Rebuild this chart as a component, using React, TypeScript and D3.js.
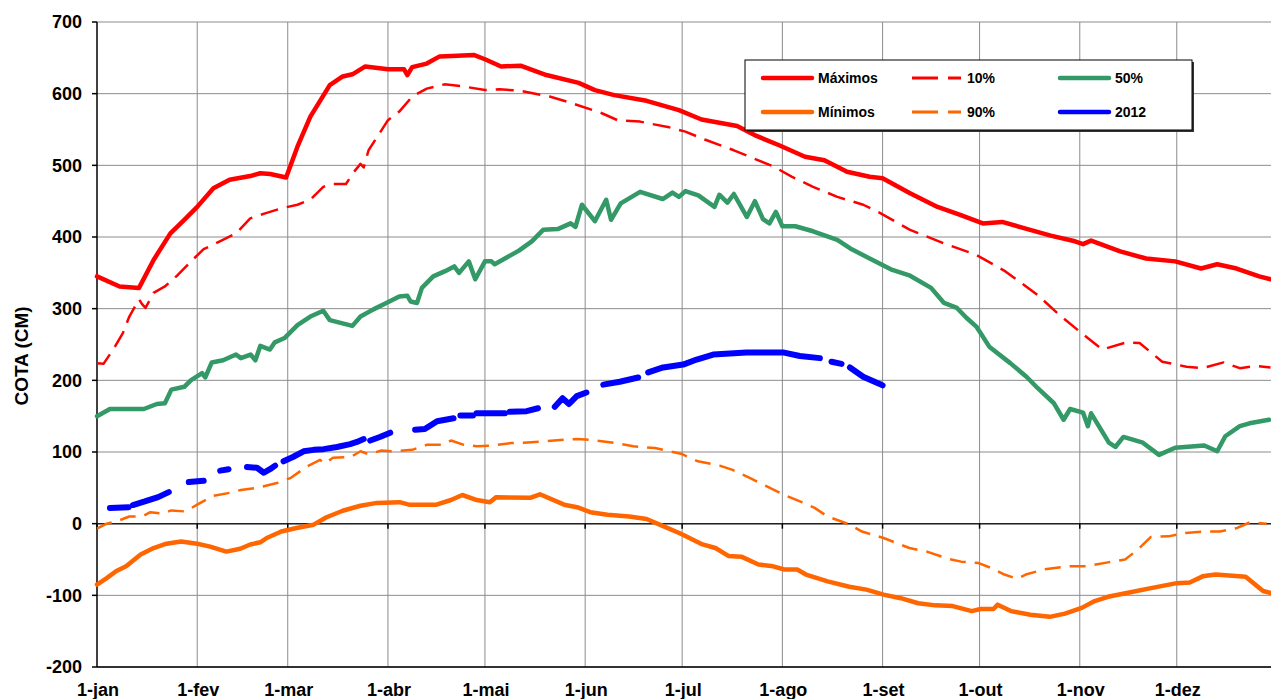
import * as React from 'react';
import { useEffect, useRef } from 'react';
import * as d3 from 'd3';

type Pt = [number, number | null];

const monthDays = [0, 31, 59, 90, 120, 151, 181, 212, 243, 273, 304, 334];
const monthLabels = ['1-jan', '1-fev', '1-mar', '1-abr', '1-mai', '1-jun', '1-jul', '1-ago', '1-set', '1-out', '1-nov', '1-dez'];
const yTicks = [-200, -100, 0, 100, 200, 300, 400, 500, 600, 700];

// day of year, level (cm)
const maxima: Pt[] = [
    [0, 345], [7, 331], [13, 329], [17.5, 368], [22.7, 405], [27, 424], [31, 442], [36, 468], [41, 480],
    [47.4, 485], [50.5, 489], [53.6, 488], [58.5, 483], [62, 526], [66, 568], [72, 612], [76, 624], [79, 627],
    [83, 638], [90, 634], [95, 634], [96, 626], [97.5, 637], [102, 642], [106, 652], [111.5, 653], [116.5, 654],
    [120, 648], [125, 638], [131, 639], [139, 626], [149, 615], [154, 605], [160, 598], [170, 590], [180, 577],
    [187, 564], [198, 555], [204, 541], [211, 528], [219, 512], [225, 507], [232, 491], [239, 484], [243, 482],
    [251.5, 461], [260, 442], [267, 431], [274, 419], [280, 421], [287, 412], [295, 402], [302.5, 394], [305, 390],
    [307.5, 395], [316.5, 380], [324.5, 370], [333.5, 366], [341.5, 356], [346.5, 362], [352.5, 356], [359.5, 345],
    [363, 341],
];

const p10: Pt[] = [
    [0, 224], [2, 223], [5, 243], [8, 266], [10, 289], [13, 313], [14, 306], [15, 301], [17.5, 322], [21, 331],
    [25, 347], [30, 370], [33, 383], [38, 394], [43, 405], [47.4, 426], [52, 433], [57, 440], [62, 445], [66, 452],
    [70, 470], [73, 474], [77, 474], [79.5, 491], [81.5, 502], [82.5, 497], [84, 521], [87, 542], [90, 563],
    [93.5, 575], [97.5, 596], [102, 607], [107.5, 613], [113.5, 610], [120, 605], [124.5, 606], [131, 604],
    [140, 596], [146, 588], [156, 573], [161, 563], [168, 561], [177, 553], [182, 547], [188, 536], [197, 521],
    [204, 508], [209, 499], [215, 484], [221.5, 470], [229, 456], [237, 445], [242, 434], [251.5, 410], [262, 391],
    [272, 375], [281, 352], [291, 319], [297, 294], [304.5, 266], [311, 243], [318.5, 253], [322.5, 252],
    [329.5, 226], [337, 219], [342, 217], [348.5, 225], [353.5, 217], [358.5, 220], [363, 218],
];

const p50: Pt[] = [
    [0, 150], [4, 160], [14.5, 160], [18.5, 167], [21, 168], [23, 187], [27, 191], [29, 200], [32.5, 210],
    [33.5, 204], [35.5, 225], [39, 228], [43, 236], [44.5, 231], [47.5, 236], [49, 228], [50.5, 248], [53.5, 243],
    [55, 253], [58, 259], [62, 277], [66, 289], [70, 297], [72, 284], [79, 276], [81.5, 289], [85.5, 299],
    [89.5, 308], [93.5, 317], [96, 318], [97, 310], [99, 308], [100.5, 329], [104, 345], [107.5, 352], [110.5, 359],
    [112, 350], [115, 366], [117, 341], [120, 366], [122, 366], [123, 362], [130.5, 381], [134.5, 394], [138, 410],
    [142.5, 411], [146.5, 419], [148, 414], [150, 445], [154, 422], [157.5, 452], [159, 424], [162, 447], [168, 463],
    [175, 453], [178, 462], [180, 456], [182, 464], [186, 458], [191, 442], [192.5, 459], [195, 448], [197, 460],
    [201, 428], [203.5, 450], [206, 425], [208, 419], [210, 435], [212, 415], [216, 415], [221.5, 408], [229, 396],
    [233, 384], [239, 370], [246, 354], [251.5, 346], [258, 329], [262, 308], [266, 301], [269, 287], [272, 275],
    [276, 247], [282.5, 224], [287.5, 205], [291, 189], [296, 168], [299, 145], [301, 160], [305, 155],
    [306.5, 136], [307.5, 154], [313, 113], [315, 107], [317.5, 121], [323.5, 113], [328.5, 96], [333.5, 106],
    [342.5, 109], [346.5, 101], [349, 122], [353.5, 136], [356.5, 140], [362.5, 145],
];

const p90: Pt[] = [
    [0, -7], [3, 0], [6, 3], [10, 10], [14, 10], [16.5, 16], [20, 14], [23, 18.5], [27.3, 17], [31, 26.5],
    [36, 39], [41, 43], [44.5, 47], [49.5, 50], [56, 57], [60, 64], [65, 80], [69, 89], [70.5, 84], [73, 92],
    [78.5, 93], [81.5, 101], [84, 97], [88, 102], [91, 101], [97.5, 103], [102, 110], [107, 110], [109.5, 116],
    [113.5, 110], [117.5, 108], [122, 109], [128, 112.5], [132, 113], [138.5, 115], [144.5, 117], [148.5, 118],
    [152.6, 117], [160.6, 112.5], [165.9, 108], [172.6, 105.5], [180.6, 97.6], [185.9, 87], [192.6, 81],
    [196.6, 75], [201.9, 64], [207.2, 52], [212.6, 40], [218, 30], [222, 22], [226, 10], [232.7, -1],
    [236.6, -11], [243.3, -20], [251.3, -34], [256.7, -39], [263.3, -49], [267.3, -53], [272.7, -55],
    [276.7, -62], [280.7, -71], [284.7, -77], [287.3, -71], [292.7, -64], [300.7, -59.5], [306, -59.5],
    [312.7, -54], [318, -50], [322, -36], [326, -18.5], [331.4, -17.7], [336.7, -13], [342, -11], [347.4, -11],
    [352.7, -6], [356.7, 2], [361.8, 0],
];

const minima: Pt[] = [
    [0, -85], [3, -76], [6, -66], [9, -59.5], [13.5, -43], [17.5, -34], [21.5, -28], [26, -25], [31, -28],
    [35, -32], [40, -39], [44.3, -35], [47.4, -29], [50.5, -26], [52.5, -20], [57, -11], [61.7, -6], [67, -1.4],
    [71, 9], [76, 18], [81.5, 25], [86.6, 29], [93.6, 30], [96.5, 26.5], [105, 26.5], [109.5, 33], [113, 40],
    [117.5, 33], [121.5, 30], [123.5, 37], [134, 36], [137, 41], [144.5, 26.5], [148.5, 23], [152.6, 16],
    [157.9, 12.5], [164.6, 10], [170, 6.5], [175.3, -3.7], [180.6, -14], [187.3, -29], [191.3, -34],
    [195.3, -45], [199.3, -46], [204.6, -57], [208.6, -59], [212.6, -64], [216.6, -64], [219.3, -71],
    [226, -80.5], [232.7, -88], [238, -92], [243.3, -99], [248.6, -104], [254, -111], [259.3, -114],
    [264.7, -115], [270.6, -122], [273.3, -119], [277.3, -119], [278.6, -113], [282.7, -122], [288.7, -127],
    [294.7, -130], [299.4, -125.5], [304.6, -117.5], [308.6, -108], [312.7, -102], [319.3, -96], [326, -90],
    [334, -83], [338, -82], [342, -73.5], [346, -71], [355.3, -74], [360.7, -94], [363.2, -97],
];

// null = missing days (gaps in the record)
const y2012: Pt[] = [
    [4, 22], [9.8, 23], [10.5, null],
    [11.1, 26], [14.8, 31], [18.9, 37], [22.2, 44], [25, null],
    [28.4, 58], [33, 60], [35, null],
    [38.1, 74], [40.7, 76], [43, null],
    [46.4, 79], [49.5, 78], [51.6, 71], [53.5, 76], [55.1, 81], [56.5, null],
    [57.7, 87], [60.6, 93], [63.9, 101], [67, 103], [70.1, 104], [74.2, 107], [78.3, 111], [80.4, 114], [82.5, 118], [83.5, null],
    [84.5, 116], [87.5, 121], [90.7, 127], [94, null],
    [98.4, 131], [101.4, 132], [105.2, 143], [110.3, 147], [111.5, null],
    [112.4, 151], [116.3, 151], [117, null],
    [117.4, 154], [126.2, 154], [127, null],
    [127.7, 156], [132.9, 157], [136.4, 161], [139, null],
    [141.6, 163], [144, 175], [146, 167], [148.4, 178], [151.4, 183], [154, null],
    [156.6, 194], [161.7, 198], [167.4, 204], [169, null],
    [170.5, 211], [175.1, 218], [181.3, 222], [185.5, 229], [190.6, 236], [200.9, 239], [212.2, 239],
    [217.4, 234], [223.6, 231], [225.5, null],
    [227.2, 226], [230.3, 223], [231.5, null],
    [232.9, 218], [237, 205], [242.1, 195], [243, 193],
];

interface Series {
    name: string;
    data: Pt[];
    color: string;
    width: number;
    dash: string | null;
}

const series: Series[] = [
    { name: 'Máximos', data: maxima, color: '#FF0000', width: 4.5, dash: null },
    { name: '10%', data: p10, color: '#FF0000', width: 2.5, dash: '18,9' },
    { name: '50%', data: p50, color: '#339966', width: 4.5, dash: null },
    { name: 'Mínimos', data: minima, color: '#FF6600', width: 4.5, dash: null },
    { name: '90%', data: p90, color: '#FF6600', width: 2.5, dash: '16,9' },
    { name: '2012', data: y2012, color: '#0000FF', width: 6, dash: null },
];

const W = 1271;
const H = 699;
const FONT = '"Liberation Sans", Arial, sans-serif';

export default function App() {
    const ref = useRef<SVGSVGElement>(null);

    useEffect(() => {
        const svg = d3.select(ref.current);
        svg.selectAll('*').remove();

        const x = d3.scaleLinear().domain([0, 365]).range([97, 1277]);
        const y = d3.scaleLinear().domain([-200, 700]).range([667, 22]);

        // grid
        const grid = svg.append('g');
        grid.selectAll('line.h')
            .data(yTicks)
            .enter().append('line')
            .attr('x1', x(0)).attr('x2', W)
            .attr('y1', d => y(d)).attr('y2', d => y(d))
            .attr('stroke', '#8c8c8c').attr('stroke-width', 1);
        grid.selectAll('line.v')
            .data(monthDays.slice(1))
            .enter().append('line')
            .attr('x1', d => x(d)).attr('x2', d => x(d))
            .attr('y1', y(700)).attr('y2', y(-200))
            .attr('stroke', '#8c8c8c').attr('stroke-width', 1);

        // axes
        svg.append('line')
            .attr('x1', x(0)).attr('x2', x(0)).attr('y1', y(700)).attr('y2', y(-200))
            .attr('stroke', '#000').attr('stroke-width', 1.5);
        svg.append('line')
            .attr('x1', x(0)).attr('x2', W).attr('y1', y(-200)).attr('y2', y(-200))
            .attr('stroke', '#000').attr('stroke-width', 1.5);
        svg.append('line')
            .attr('x1', x(0)).attr('x2', W).attr('y1', y(0)).attr('y2', y(0))
            .attr('stroke', '#222').attr('stroke-width', 1.5);
        svg.selectAll('line.xt')
            .data(monthDays)
            .enter().append('line')
            .attr('x1', d => x(d)).attr('x2', d => x(d))
            .attr('y1', y(0)).attr('y2', y(0) + 5)
            .attr('stroke', '#000').attr('stroke-width', 1.5);
        svg.selectAll('line.yt')
            .data(yTicks)
            .enter().append('line')
            .attr('x1', x(0) - 5).attr('x2', x(0))
            .attr('y1', d => y(d)).attr('y2', d => y(d))
            .attr('stroke', '#000').attr('stroke-width', 1.5);

        // tick labels
        svg.selectAll('text.yl')
            .data(yTicks)
            .enter().append('text')
            .attr('x', 82).attr('y', d => y(d))
            .attr('dy', '0.36em')
            .attr('text-anchor', 'end')
            .style('font', `bold 18px ${FONT}`)
            .text(d => String(d));
        svg.selectAll('text.xl')
            .data(monthDays)
            .enter().append('text')
            .attr('x', d => x(d) + 1).attr('y', 696)
            .attr('text-anchor', 'middle')
            .style('font', `bold 18px ${FONT}`)
            .text((d, i) => monthLabels[i]);

        svg.append('text')
            .attr('transform', 'translate(28,356) rotate(-90)')
            .attr('text-anchor', 'middle')
            .style('font', `bold 19px ${FONT}`)
            .text('COTA (CM)');

        // series
        const line = d3.line<Pt>()
            .defined(d => d[1] !== null)
            .x(d => x(d[0]))
            .y(d => y(d[1] as number));

        series.forEach(s => {
            const p = svg.append('path')
                .attr('d', line(s.data))
                .attr('fill', 'none')
                .attr('stroke', s.color)
                .attr('stroke-width', s.width)
                .attr('stroke-linejoin', 'round')
                .attr('stroke-linecap', 'round');
            if (s.dash) {
                p.attr('stroke-dasharray', s.dash).attr('stroke-linecap', 'butt');
            }
        });

        // legend
        const lg = svg.append('g');
        lg.append('rect')
            .attr('x', 747).attr('y', 62).attr('width', 447).attr('height', 70)
            .attr('fill', '#333');
        lg.append('rect')
            .attr('x', 745).attr('y', 60).attr('width', 447).attr('height', 70)
            .attr('fill', '#fff').attr('stroke', '#000').attr('stroke-width', 1);
        const colX = [763, 912, 1060];
        const rowY = [78, 112];
        const order = ['Máximos', '10%', '50%', 'Mínimos', '90%', '2012'];
        order.forEach((name, i) => {
            const s = series.find(t => t.name === name) as Series;
            const cx = colX[i % 3];
            const cy = rowY[Math.floor(i / 3)];
            const l = lg.append('line')
                .attr('x1', cx).attr('x2', cx + 49)
                .attr('y1', cy).attr('y2', cy)
                .attr('stroke', s.color)
                .attr('stroke-width', s.dash ? 3 : 4.5);
            if (s.dash) {
                l.attr('stroke-dasharray', '26,10');
            } else {
                l.attr('stroke-linecap', 'round');
            }
            lg.append('text')
                .attr('x', cx + 55).attr('y', cy)
                .attr('dy', '0.36em')
                .style('font', `bold 14px ${FONT}`)
                .text(name);
        });
    }, []);

    return (
        <svg ref={ref} width={W} height={H}
            style={{ position: 'absolute', left: 0, top: 0, background: '#fff' }} />
    );
}
